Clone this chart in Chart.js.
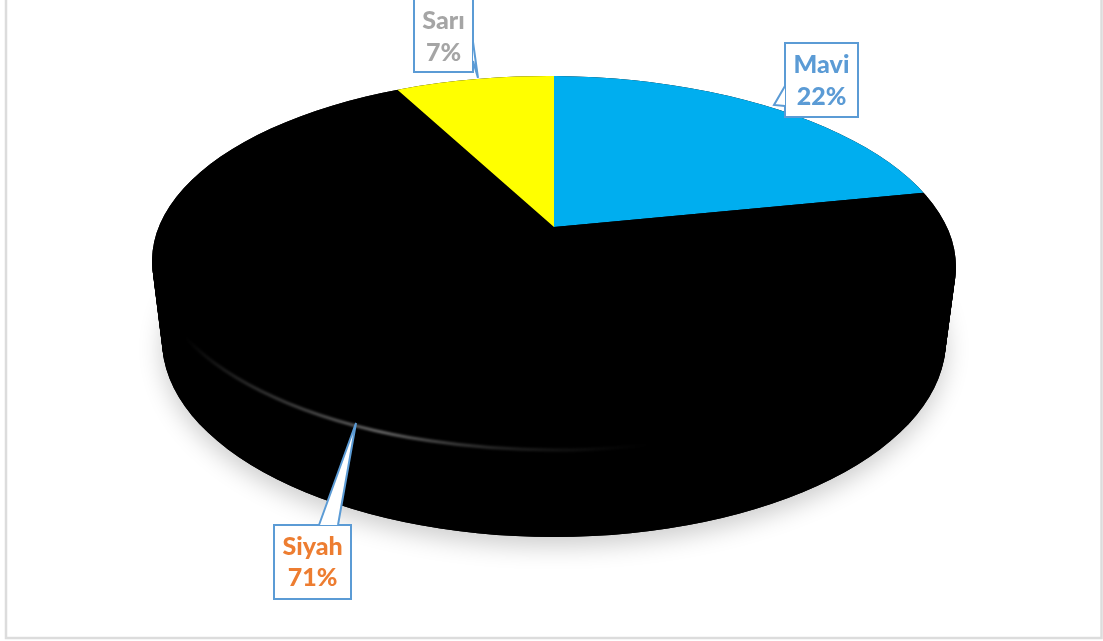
<!DOCTYPE html>
<html>
<head>
<meta charset="utf-8">
<style>html,body{margin:0;padding:0;background:#fff}canvas{display:block}</style>
<script src="https://cdn.jsdelivr.net/npm/chart.js@4"></script>
</head>
<body>
<canvas id="c" width="1103" height="641"></canvas>
<script>
const categories = ['Mavi', 'Siyah', 'Sarı'];
const shares = [22, 71, 7];
const sliceColors = ['#00AEEF', '#000000', '#FFFF00'];
const textColors = ['#5B9BD5', '#ED7D31', '#A5A5A5'];

// layout of the tilted pie
const apex = {x: 554, y: 227};
const topFace = {x: 554, y: 264, rx: 402, ry: 188, rot: 0.009};
const baseFace = {x: 554, y: 340, rx: 392, ry: 197};
const callouts = [
  {l: 785, t: 43, r: 858, b: 117, ptr: [[785, 86], [774, 105], [785, 106]], cy: [65, 97]},
  {l: 274, t: 525, r: 351, b: 599, ptr: [[319, 525], [356, 423], [338, 525]], cy: [547, 578]},
  {l: 414, t: -20, r: 473, b: 72, ptr: [[473, 42], [478, 78], [473, 61]], cy: [21, 53]}
];

const tilt = {
  id: 'tilt',
  beforeDraw(chart) {
    const ctx = chart.ctx;
    ctx.save();
    ctx.strokeStyle = '#dcdcdc';
    ctx.lineWidth = 2.5;
    ctx.strokeRect(6, -10, 1095.5, 648);
    ctx.restore();
  },
  beforeDatasetsDraw(chart) {
    const ctx = chart.ctx;
    // cast shadow and side wall
    ctx.save();
    ctx.shadowColor = 'rgba(0,0,0,0.2)';
    ctx.shadowBlur = 24;
    ctx.shadowOffsetY = 9;
    ctx.shadowOffsetX = 0;
    ctx.fillStyle = '#000';
    ctx.beginPath();
    ctx.ellipse(baseFace.x, baseFace.y, baseFace.rx, baseFace.ry, 0, 0, Math.PI * 2);
    ctx.fill();
    ctx.restore();
    ctx.save();
    ctx.fillStyle = '#000';
    for (let i = 0; i <= 40; i++) {
      const t = i / 40;
      ctx.beginPath();
      ctx.ellipse(
        topFace.x + (baseFace.x - topFace.x) * t,
        topFace.y + (baseFace.y - topFace.y) * t,
        topFace.rx + (baseFace.rx - topFace.rx) * t,
        topFace.ry + (baseFace.ry - topFace.ry) * t,
        topFace.rot * (1 - t), 0, Math.PI * 2);
      ctx.fill();
    }
    ctx.restore();
    // top face: library arcs, clipped to the ellipse and squashed
    const arc = chart.getDatasetMeta(0).data[0];
    const R = arc.outerRadius, cx = arc.x, cy = arc.y;
    const sx = 620 / R, sy = sx / 2.39, k = -0.0127;
    ctx.save();
    ctx.beginPath();
    ctx.ellipse(topFace.x, topFace.y, topFace.rx, topFace.ry, topFace.rot, 0, Math.PI * 2);
    ctx.clip();
    ctx.transform(sx, k * sx, 0, sy, apex.x - sx * cx, apex.y - k * sx * cx - sy * cy);
  },
  afterDatasetsDraw(chart) {
    const ctx = chart.ctx;
    ctx.restore();
    // soft highlight on the rim
    ctx.save();
    const g = ctx.createLinearGradient(185, 0, 650, 0);
    g.addColorStop(0, 'rgba(120,120,120,0)');
    g.addColorStop(0.2, 'rgba(90,90,90,0.6)');
    g.addColorStop(0.42, 'rgba(110,110,110,0.95)');
    g.addColorStop(0.68, 'rgba(60,60,60,0.6)');
    g.addColorStop(1, 'rgba(40,40,40,0)');
    ctx.strokeStyle = g;
    ctx.lineWidth = 3;
    ctx.filter = 'blur(1.2px)';
    ctx.beginPath();
    ctx.ellipse(554, 263, topFace.rx, 187, 0, Math.PI * 0.35, Math.PI * 0.9);
    ctx.stroke();
    ctx.restore();
    // callouts
    ctx.save();
    categories.forEach((name, i) => {
      const c = callouts[i];
      ctx.beginPath();
      ctx.rect(c.l, c.t, c.r - c.l, c.b - c.t);
      ctx.fillStyle = '#fff';
      ctx.fill();
      ctx.strokeStyle = '#5B9BD5';
      ctx.lineWidth = 2;
      ctx.stroke();
      ctx.beginPath();
      ctx.moveTo(c.ptr[0][0], c.ptr[0][1]);
      ctx.lineTo(c.ptr[1][0], c.ptr[1][1]);
      ctx.lineTo(c.ptr[2][0], c.ptr[2][1]);
      ctx.closePath();
      ctx.fill();
      ctx.beginPath();
      ctx.moveTo(c.ptr[0][0], c.ptr[0][1]);
      ctx.lineTo(c.ptr[1][0], c.ptr[1][1]);
      ctx.lineTo(c.ptr[2][0], c.ptr[2][1]);
      ctx.stroke();
      ctx.fillStyle = textColors[i];
      ctx.font = '900 25px Lato';
      ctx.textAlign = 'center';
      ctx.textBaseline = 'middle';
      const mx = (c.l + c.r) / 2;
      ctx.fillText(name, mx, c.cy[0]);
      ctx.fillText(shares[i] + '%', mx, c.cy[1]);
    });
    ctx.restore();
  }
};

new Chart(document.getElementById('c'), {
  type: 'pie',
  data: {
    labels: categories,
    datasets: [{data: shares, backgroundColor: sliceColors, borderWidth: 0, clip: false}]
  },
  options: {
    responsive: false,
    animation: false,
    rotation: 0,
    plugins: {legend: {display: false}, tooltip: {enabled: false}}
  },
  plugins: [tilt]
});
</script>
</body>
</html>
